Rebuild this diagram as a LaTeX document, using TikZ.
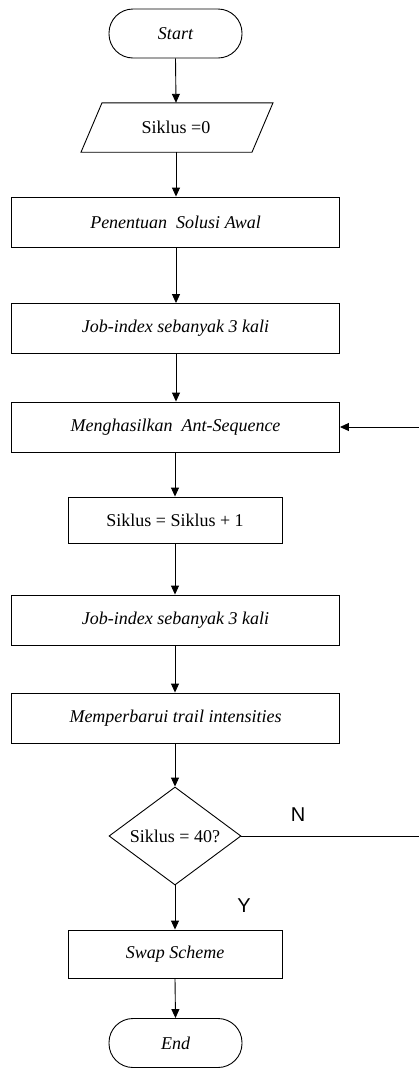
\documentclass[tikz,border=0pt]{standalone}
\usepackage{fontspec}
\setmainfont{Liberation Serif}
\newfontfamily\arialfont{Liberation Sans}
\usetikzlibrary{arrows.meta,shapes.geometric}
\begin{document}
\begin{tikzpicture}[x=1pt,y=-1pt,
  lw/.style={line width=0.9pt},
  txt/.style={font=\fontsize{18}{20}\selectfont},
  itxt/.style={font=\fontsize{18}{20}\selectfont\itshape},
  box/.style={draw,lw,minimum width=328pt,minimum height=50pt,inner sep=0pt},
  sbox/.style={draw,lw,minimum width=214pt,inner sep=0pt},
  term/.style={draw,lw,rounded corners=24pt,minimum width=133pt,minimum height=49pt,inner sep=0pt,itxt},
  arr/.style={lw,-{Triangle[length=9pt,width=8pt]}},
  lab/.style={font=\arialfont\fontsize{20}{22}\selectfont}]
\useasboundingbox (0,0) rectangle (419,1069);
\node[term] (start) at (175.5,33.5) {Start};
\node[txt,minimum height=49pt,inner sep=0pt] (s0) at (176,127.5) {Siklus =0};
\draw[lw] ([xshift=-74pt]s0.north -| 176,0) -- ([xshift=97pt]s0.north -| 176,0) -- ([xshift=76pt]s0.south -| 176,0) -- ([xshift=-95pt]s0.south -| 176,0) -- cycle;
\node[box,itxt] (b1) at (175.5,222) {Penentuan\ \ Solusi Awal};
\node[box,itxt] (b2) at (175.5,328.5) {Job-index sebanyak 3 kali};
\node[box,itxt] (b3) at (175.5,427) {Menghasilkan\ \ Ant-Sequence};
\node[sbox,txt,minimum height=46pt] (b4) at (175,520) {Siklus = Siklus + 1};
\node[box,itxt] (b5) at (175.5,620) {Job-index sebanyak 3 kali};
\node[box,itxt] (b6) at (175.5,718) {Memperbarui trail intensities};
\node[draw,lw,diamond,aspect=1.35,minimum width=132pt,minimum height=98pt,inner sep=0pt,txt] (d) at (175,836) {Siklus = 40?};
\node[sbox,itxt,minimum height=48pt] (b7) at (175,954) {Swap Scheme};
\node[term] (end) at (175.5,1043) {End};
\coordinate (nr) at (419,836);
\coordinate (fb) at (419,427);
\node[lab] (N) at (298,815) {N};
\node[lab] (Y) at (244,906) {Y};
\draw[arr] (start.south) -- (s0.north);
\draw[arr] (s0.south) -- (b1.north -| s0.south);
\draw[arr] (b1.south -| s0.south) -- (b2.north -| s0.south);
\draw[arr] (b2.south -| s0.south) -- (b3.north -| s0.south);
\draw[arr] (b3.south -| b4.north) -- (b4.north);
\draw[arr] (b4.south) -- (b5.north -| b4.south);
\draw[arr] (b5.south -| b4.south) -- (b6.north -| b4.south);
\draw[arr] (b6.south -| d.north) -- (d.north);
\draw[arr] (d.south) -- (b7.north);
\draw[arr] (b7.south) -- (end.north);
\draw[lw] (d.east) -- (nr);
\draw[arr] (fb) -- (b3.east);
\end{tikzpicture}
\end{document}
